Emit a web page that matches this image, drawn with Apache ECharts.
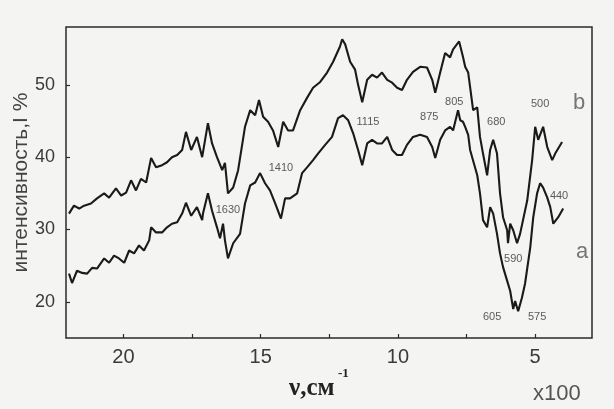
<!DOCTYPE html>
<html>
<head>
<meta charset="utf-8">
<script src="https://cdn.jsdelivr.net/npm/echarts@6/dist/echarts.min.js"></script>
<style>
  html, body { margin: 0; padding: 0; background: #f4f4f2; }
  #chart { width: 614px; height: 409px; }
</style>
</head>
<body>
<div id="chart"></div>
<script>
// IR spectra: wavenumber (x100 cm^-1) vs intensity (%)
const waveB = [21.98,21.80,21.61,21.43,21.18,20.96,20.70,20.52,20.27,20.08,19.90,19.72,19.54,19.36,19.17,18.99,18.81,18.59,18.41,18.23,18.04,17.86,17.72,17.53,17.32,17.13,16.92,16.77,16.59,16.40,16.30,16.19,16.00,15.82,15.57,15.38,15.20,15.06,14.91,14.73,14.55,14.36,14.18,14.00,13.82,13.56,13.31,13.09,12.83,12.58,12.36,12.11,12.03,11.92,11.74,11.56,11.45,11.30,11.12,10.94,10.76,10.58,10.39,10.21,10.03,9.85,9.67,9.45,9.19,8.94,8.75,8.64,8.46,8.28,8.10,7.99,7.77,7.63,7.55,7.44,7.37,7.26,7.11,7.01,6.90,6.75,6.64,6.53,6.39,6.28,6.17,6.02,5.99,5.91,5.80,5.66,5.55,5.29,5.11,5.00,4.89,4.71,4.56,4.38,4.27,4.02];
const intensB = [32.2,33.3,32.9,33.3,33.6,34.3,35.0,34.4,35.7,34.7,35.1,36.8,35.4,37.0,36.5,39.9,38.6,38.9,39.3,40.0,40.3,41.0,43.5,41.0,42.8,40.0,44.7,41.9,40.0,38.2,39.2,35.0,35.8,38.2,44.2,46.5,45.8,47.9,45.6,44.9,43.7,41.4,44.9,43.7,43.7,46.5,48.2,49.6,50.4,51.7,53.2,55.3,56.3,55.6,53.2,52.1,50.0,47.6,50.7,51.4,51.0,51.7,50.7,50.3,49.6,49.3,50.7,51.8,52.5,52.4,50.7,48.9,51.7,54.4,53.8,54.9,56.0,53.9,52.5,51.7,49.7,46.5,46.9,42.8,40.5,37.5,41.0,42.4,40.5,35.0,31.7,29.9,28.1,30.8,29.9,28.1,29.4,34.0,39.6,44.2,42.4,44.2,41.4,39.6,40.5,42.1];

const waveA = [21.98,21.87,21.69,21.50,21.32,21.14,20.96,20.70,20.52,20.34,20.16,19.97,19.79,19.61,19.43,19.25,19.06,18.99,18.81,18.59,18.41,18.23,18.04,17.86,17.72,17.53,17.32,17.13,17.10,16.92,16.77,16.59,16.48,16.37,16.30,16.19,16.00,15.75,15.57,15.38,15.20,15.02,14.84,14.66,14.47,14.26,14.11,13.93,13.67,13.49,13.31,13.09,12.91,12.65,12.40,12.18,12.00,11.81,11.63,11.45,11.30,11.12,10.94,10.76,10.58,10.39,10.21,10.03,9.85,9.67,9.45,9.19,8.94,8.75,8.64,8.46,8.28,8.10,7.99,7.81,7.73,7.63,7.55,7.44,7.37,7.11,7.01,6.90,6.75,6.64,6.53,6.39,6.28,6.17,6.02,5.91,5.80,5.73,5.62,5.48,5.37,5.18,5.07,4.93,4.82,4.71,4.56,4.45,4.34,4.16,3.98];
const intensA = [23.9,22.6,24.3,24.0,23.9,24.7,24.6,26.0,25.4,26.4,26.0,25.4,27.1,26.7,27.8,27.1,28.5,30.3,29.6,29.6,30.3,30.8,31.0,32.2,33.7,31.9,33.1,31.3,32.2,35.0,32.6,30.3,28.8,30.8,28.5,26.0,28.1,29.4,33.6,36.1,36.5,37.8,36.4,35.4,33.6,31.5,34.3,34.3,35.0,37.8,38.6,39.6,40.5,41.7,42.8,45.4,45.8,45.1,43.3,41.0,38.9,41.9,42.4,41.9,41.9,42.8,41.0,40.3,40.3,41.7,42.8,43.1,42.8,41.4,39.9,42.4,43.7,44.2,43.7,46.5,45.1,44.9,44.2,43.1,41.0,37.5,35.0,31.3,30.3,33.1,32.2,29.4,26.7,24.8,22.9,21.5,19.0,20.1,18.7,20.6,22.5,27.5,31.7,35.0,36.4,35.8,34.4,33.1,30.8,31.7,32.9];

// band annotations: text and anchor point (wavenumber, intensity)
const bandText = ['1630','1410','1115','875','805','680','500','440','590','605','575'];
const bandWave = [16.19,14.26,11.09,8.86,7.95,6.42,4.82,4.13,5.80,6.57,4.93];
const bandInt  = [32.7,38.5,44.9,45.6,47.6,44.9,47.4,34.6,25.9,17.9,17.9];

// curve names
const curveText = ['b','a'];
const curveWave = [3.40,3.29];
const curveInt  = [47.5,26.9];

const xTicks = [5,7.5,10,12.5,15,17.5,20];
const xLabels = [5,10,15,20];
const yTicks = [20,30,40,50];

const zip = (xs, ys) => xs.map((x, i) => [x, ys[i]]);

const chart = echarts.init(document.getElementById('chart'), null, { renderer: 'canvas' });

const textColor = '#3a3a3a';
const lineColor = '#1a1a1a';

chart.setOption({
  animation: false,
  backgroundColor: '#f4f4f2',
  grid: {
    left: 66, right: 22, top: 27, bottom: 71,
    outerBoundsMode: 'none', containLabel: false,
    show: true, borderColor: '#2a2a2a', borderWidth: 1.5, backgroundColor: 'transparent'
  },
  xAxis: {
    type: 'value', inverse: true, min: 2.93, max: 22.09,
    axisLine: { show: false },
    splitLine: { show: false },
    axisTick: { show: true, inside: true, length: 4, customValues: xTicks, lineStyle: { color: '#2a2a2a', width: 1.2 } },
    axisLabel: { customValues: xLabels, margin: 9, color: textColor, fontSize: 20, fontFamily: 'Liberation Sans' }
  },
  yAxis: {
    type: 'value', min: 15, max: 58,
    axisLine: { show: false },
    splitLine: { show: false },
    axisTick: { show: true, inside: true, length: 4, customValues: yTicks, lineStyle: { color: '#2a2a2a', width: 1.2 } },
    axisLabel: { customValues: yTicks, margin: 11, color: textColor, fontSize: 18, fontFamily: 'Liberation Sans' },
    name: 'интенсивность,I %',
    nameLocation: 'middle', nameRotate: 90, nameGap: 34, nameMoveOverlap: false,
    nameTextStyle: { color: '#444', fontSize: 21, fontFamily: 'Liberation Sans' }
  },
  series: [
    {
      name: 'b', type: 'line', data: zip(waveB, intensB), showSymbol: false, smooth: false,
      lineStyle: { color: lineColor, width: 2.1 }, z: 3
    },
    {
      name: 'a', type: 'line', data: zip(waveA, intensA), showSymbol: false, smooth: false,
      lineStyle: { color: lineColor, width: 2.1 }, z: 3
    },
    {
      name: 'bands', type: 'scatter', symbolSize: 0, silent: true,
      data: bandText.map((t, i) => ({ value: [bandWave[i], bandInt[i]], name: t })),
      label: { show: true, position: 'inside', formatter: p => p.name, color: '#333', fontSize: 11, fontFamily: 'Liberation Sans' }
    },
    {
      name: 'curves', type: 'scatter', symbolSize: 0, silent: true,
      data: curveText.map((t, i) => ({ value: [curveWave[i], curveInt[i]], name: t })),
      label: { show: true, position: 'inside', formatter: p => p.name, color: '#555', fontSize: 22, fontFamily: 'Liberation Sans' }
    }
  ],
  graphic: [
    { type: 'text', left: 289, top: 376, style: { text: 'ν,см', fill: '#222', font: 'bold 25px "Liberation Serif"' } },
    { type: 'text', left: 338, top: 367, style: { text: '-1', fill: '#222', font: 'bold 13px "Liberation Serif"' } },
    { type: 'text', left: 533, top: 383, style: { text: 'x100', fill: '#555', font: '22px "Liberation Sans"' } }
  ]
});
</script>
</body>
</html>
